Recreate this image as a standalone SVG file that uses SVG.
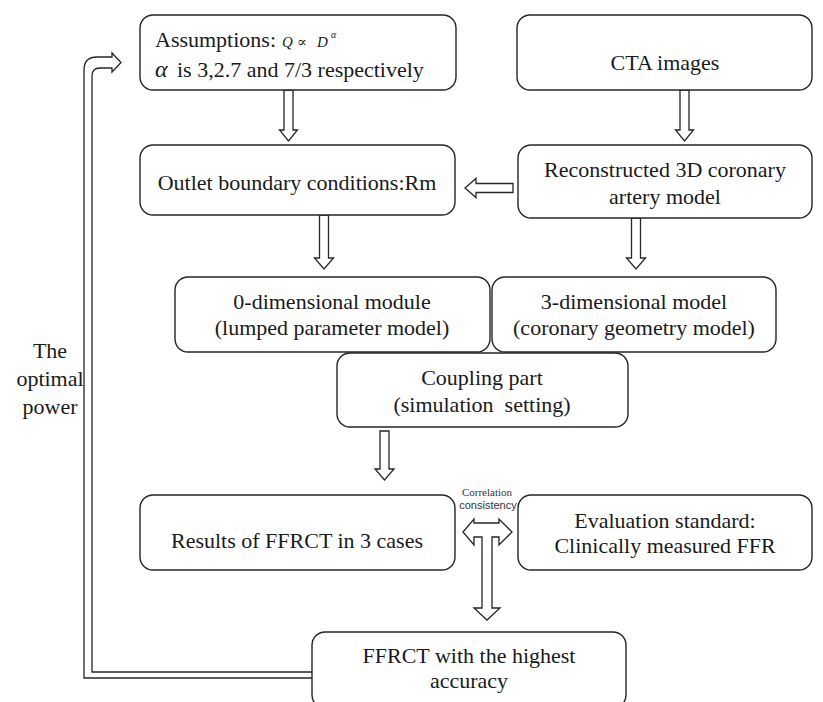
<svg xmlns="http://www.w3.org/2000/svg" width="823" height="702" viewBox="0 0 823 702">
  <style>
    .box { fill: #ffffff; stroke: #262626; stroke-width: 1.4; }
    .hollow { fill: #ffffff; stroke: #262626; stroke-width: 1.3; stroke-linejoin: miter; }
    .line { fill: none; stroke: #262626; stroke-width: 1.3; }
    .t { font-family: "Liberation Serif", "Times New Roman", serif; font-size: 22px; fill: #1a1a1a; }
    .c { text-anchor: middle; }
    .math { font-family: "Liberation Serif", "Times New Roman", serif; font-style: italic; fill: #1a1a1a; }
    .sym { font-family: "DejaVu Serif", "Liberation Serif", serif; font-style: normal; }
    .small { font-family: "Liberation Serif", "Times New Roman", serif; font-size: 11px; fill: #333333; text-anchor: middle; }
    .smallsans { font-family: "Liberation Sans", Arial, sans-serif; font-size: 11px; fill: #333333; text-anchor: middle; }
  </style>

  <rect width="823" height="702" fill="#ffffff"/>

  <!-- connectors: hollow block arrows -->
  <g id="connectors">
    <!-- assumptions -> outlet boundary conditions -->
    <path class="hollow" d="M284,90 V130 H279.5 L288.5,141 L297.5,130 H293 V90 Z"/>
    <!-- CTA images -> reconstructed model -->
    <path class="hollow" d="M680,90 V130 H675.5 L684.5,141 L693.5,130 H689 V90 Z"/>
    <!-- reconstructed model -> outlet boundary conditions -->
    <path class="hollow" d="M513,183.5 H476 V178.5 L465,188 L476,197.5 V192.5 H513 Z"/>
    <!-- outlet boundary conditions -> 0-dimensional module -->
    <path class="hollow" d="M319.5,215 V258 H314.5 L324,269 L333.5,258 H328.5 V215 Z"/>
    <!-- reconstructed model -> 3-dimensional model -->
    <path class="hollow" d="M631.5,218 V258 H626.5 L636,269 L645.5,258 H640.5 V218 Z"/>
    <!-- coupling part -> results -->
    <path class="hollow" d="M380,431 V469 H375 L384.5,480 L394,469 H389 V431 Z"/>
    <!-- correlation double arrow with branch down to final result -->
    <path class="hollow" d="M463,532 L474,519 V523 H499 V519 L512,532 L499,545 V537 H492 V608 H500 L487,620 L474,608 H482 V537 H474 V545 Z"/>
    <!-- feedback loop: final result back to assumptions -->
    <path class="line" d="M312,678 H84 V70 Q84,57 97,57 H112 V53 L121,62.5 L112,72 V68 H100 Q92,68 92,76 V672 H312"/>
  </g>

  <!-- nodes -->
  <g id="assumptions">
    <rect class="box" x="140" y="15" width="316" height="75" rx="13"/>
    <text class="t" x="155" y="47">Assumptions:</text>
    <text class="math" font-size="15" y="47"><tspan x="282">Q</tspan><tspan class="sym" x="297" font-size="15">∝</tspan><tspan x="317">D</tspan><tspan x="331" y="38" font-size="10">α</tspan></text>
    <text class="math" x="155" y="77" font-size="24">α</text>
    <text class="t" x="177" y="77">is 3,2.7 and 7/3 respectively</text>
  </g>

  <g id="cta">
    <rect class="box" x="517" y="15" width="295" height="75" rx="13"/>
    <text class="t c" x="665" y="70">CTA images</text>
  </g>

  <g id="outlet">
    <rect class="box" x="140" y="145" width="315" height="70" rx="13"/>
    <text class="t c" x="297" y="190">Outlet boundary conditions:Rm</text>
  </g>

  <g id="reconstructed">
    <rect class="box" x="518" y="145" width="294" height="73" rx="13"/>
    <text class="t c" x="665" y="177">Reconstructed 3D coronary</text>
    <text class="t c" x="665" y="204">artery model</text>
  </g>

  <g id="zero-dim">
    <rect class="box" x="175" y="277" width="315" height="75" rx="13"/>
    <text class="t c" x="332" y="309">0-dimensional module</text>
    <text class="t c" x="332" y="335">(lumped parameter model)</text>
  </g>

  <g id="three-dim">
    <rect class="box" x="492" y="277" width="284" height="75" rx="13"/>
    <text class="t c" x="634" y="309">3-dimensional model</text>
    <text class="t c" x="634" y="335">(coronary geometry model)</text>
  </g>

  <g id="coupling">
    <rect class="box" x="337" y="353" width="291" height="74" rx="13"/>
    <text class="t c" x="482" y="385">Coupling part</text>
    <text class="t c" x="482" y="412" xml:space="preserve">(simulation  setting)</text>
  </g>

  <g id="results">
    <rect class="box" x="140" y="495" width="315" height="75" rx="13"/>
    <text class="t c" x="297" y="548">Results of FFRCT in 3 cases</text>
  </g>

  <g id="evaluation">
    <rect class="box" x="518" y="495" width="294" height="75" rx="13"/>
    <text class="t c" x="665" y="528">Evaluation standard:</text>
    <text class="t c" x="665" y="553">Clinically measured FFR</text>
  </g>

  <g id="correlation-label">
    <text class="small" x="487" y="496">Correlation</text>
    <text class="smallsans" x="488" y="509">consistency</text>
  </g>

  <g id="final">
    <rect class="box" x="312" y="632" width="314" height="76" rx="13"/>
    <text class="t c" x="469" y="663">FFRCT with the highest</text>
    <text class="t c" x="469" y="688">accuracy</text>
  </g>

  <g id="feedback-label">
    <text class="t c" x="50" y="358">The</text>
    <text class="t c" x="50" y="386">optimal</text>
    <text class="t c" x="50" y="414">power</text>
  </g>
</svg>
